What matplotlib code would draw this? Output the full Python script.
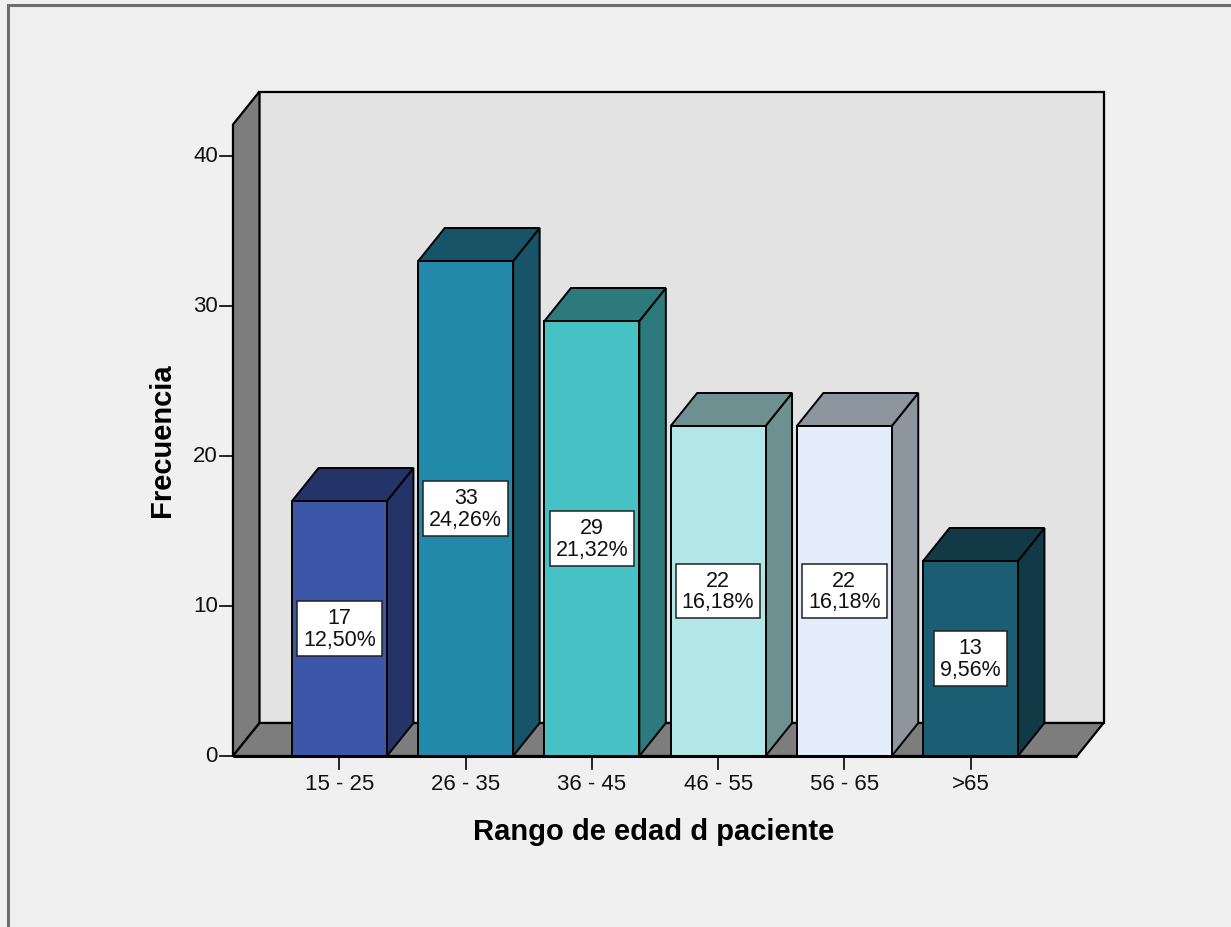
import matplotlib
matplotlib.use("Agg")
import matplotlib.pyplot as plt
from matplotlib.patches import Polygon, Rectangle

plt.rcParams['font.family'] = ['Liberation Sans', 'DejaVu Sans']

# frequencies per age group
categories = ['15 - 25', '26 - 35', '36 - 45', '46 - 55', '56 - 65', '>65']
counts = [17, 33, 29, 22, 22, 13]
percents = ['12,50%', '24,26%', '21,32%', '16,18%', '16,18%', '9,56%']
front_colors = ['#3c56a8', '#2389aa', '#46c2c5', '#b3e6e6', '#e3eefa', '#1b5e73']
shade_colors = ['#243468', '#175468', '#2c7a7b', '#6e9090', '#8d959f', '#123a46']
yticks = [0, 10, 20, 30, 40]

W, H = 1231, 928
fig = plt.figure(figsize=(W / 100, H / 100), dpi=100)
fig.patch.set_facecolor('#f0f0f0')
ax = fig.add_axes([0, 0, 1, 1])
ax.set_axis_off()

# pixel scale of the chart area
cat_px, x0_px = 126.2, 339.5
unit_px, y0_px = 15.0, 757.0
ax.set_xlim(-x0_px / cat_px, (W - x0_px) / cat_px)
ax.set_ylim((y0_px - H) / unit_px, y0_px / unit_px)

dx, dy = 26.5 / cat_px, 33 / unit_px   # depth offset
half = 0.376                            # bar half width
left, right = -0.844, len(categories) - 1 + 0.844
ytop = 42.1
wall = '#7d7d7d'

# back wall, left wall, floor
ax.add_patch(Rectangle((left + dx, dy), right - left, ytop, fc='#e3e3e3', ec='black', lw=1.6))
ax.add_patch(Polygon([(left, 0), (left, ytop), (left + dx, ytop + dy), (left + dx, dy)],
                     fc=wall, ec='black', lw=1.6, joinstyle='miter'))
ax.add_patch(Polygon([(left, 0), (right, 0), (right + dx, dy), (left + dx, dy)],
                     fc=wall, ec='black', lw=1.6, joinstyle='miter'))
ax.plot([left, right], [0, 0], color='black', lw=2.2, solid_capstyle='butt')

# bars
for i, (v, fc, sc) in enumerate(zip(counts, front_colors, shade_colors)):
    xl, xr = i - half, i + half
    ax.add_patch(Polygon([(xr, 0), (xr + dx, dy), (xr + dx, v + dy), (xr, v)],
                         fc=sc, ec='black', lw=1.4, joinstyle='miter'))
    ax.add_patch(Polygon([(xl, v), (xr, v), (xr + dx, v + dy), (xl + dx, v + dy)],
                         fc=sc, ec='black', lw=1.4, joinstyle='miter'))
    ax.add_patch(Rectangle((xl, 0), xr - xl, v, fc=fc, ec='black', lw=1.4))
    ax.text(i, v / 2, f'{v}\n{percents[i]}', ha='center', va='center', fontsize=15.5,
            linespacing=1.05, color='#111111',
            bbox=dict(boxstyle='square,pad=0.28', fc='white', ec='#222222', lw=1.1))

# y axis ticks
tick_dx = 13 / cat_px
for t in yticks:
    ax.plot([left - tick_dx, left], [t, t], color='black', lw=1.2)
    ax.text(left - tick_dx - 2 / cat_px, t, str(t), ha='right', va='center', fontsize=16,
            color='#111111')

# x axis ticks
for i, c in enumerate(categories):
    ax.plot([i, i], [0, -13 / unit_px], color='black', lw=1.2)
    ax.text(i, -28 / unit_px, c, ha='center', va='center', fontsize=16, color='#111111')

ax.text((162 - x0_px) / cat_px, (y0_px - 440) / unit_px, 'Frecuencia', rotation=90,
        ha='center', va='center', fontsize=21, fontweight='bold')
ax.text((654 - x0_px) / cat_px, (y0_px - 832) / unit_px, 'Rango de edad d paciente',
        ha='center', va='center', fontsize=21, fontweight='bold')

# outer frame
fig.add_artist(Rectangle((8 / W, -0.1), 2, 1.1 - 6 / H, transform=fig.transFigure,
                         fc='none', ec='#6e6e6e', lw=2.2))

fig.savefig('out.png', dpi=100, facecolor=fig.get_facecolor())
